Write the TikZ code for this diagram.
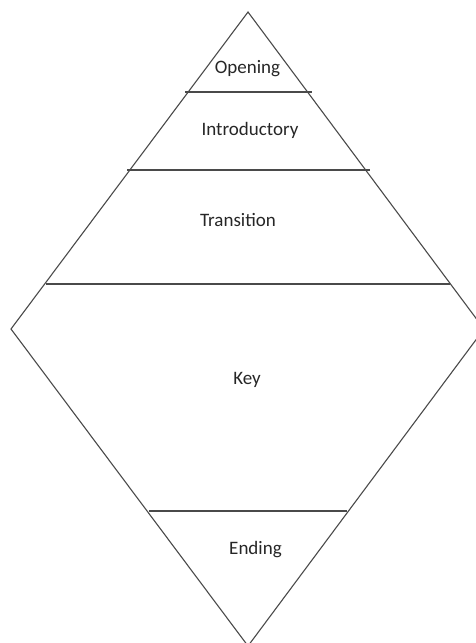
\documentclass[tikz,border=0pt]{standalone}
\usepackage{fontspec}
\setmainfont{Carlito}
\definecolor{edge}{HTML}{4A4A4A}
\definecolor{txt}{HTML}{262626}
\begin{document}
\begin{tikzpicture}[x=1pt,y=-1pt,
  outline/.style={draw=edge,line width=1.1pt,line join=miter},
  divider/.style={draw=edge,line width=1.3pt},
  label/.style={font=\fontsize{19}{22}\selectfont,text=txt,inner sep=0pt,anchor=base}]
\useasboundingbox (0,0) rectangle (476,643);
\begin{scope}
\clip (0,0) rectangle (476,643);
\draw[outline] (248,12) -- (484,329) -- (248,646) -- (11,329) -- cycle;
\end{scope}
\draw[divider] (185,92) -- (312,92);
\draw[divider] (127,170) -- (370,170);
\draw[divider] (46,284) -- (450,284);
\draw[divider] (149,511) -- (347,511);
\node[label] (opening) at (247.5,73) {Opening};
\node[label] (intro) at (250,135.5) {Introductory};
\node[label] (trans) at (238,226) {Transition};
\node[label] (key) at (247,384) {Key};
\node[label] (ending) at (255.5,554) {Ending};
\end{tikzpicture}
\end{document}
